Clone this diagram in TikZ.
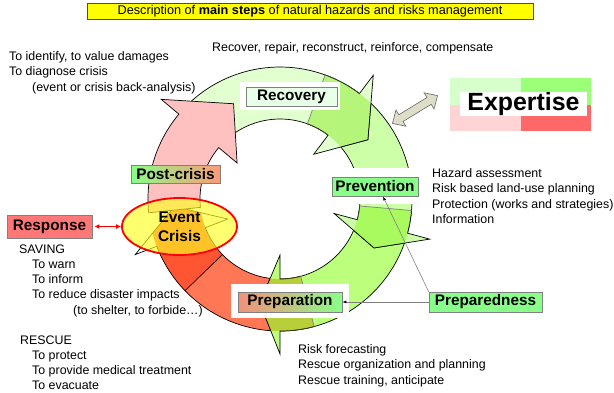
\documentclass[tikz,border=0pt]{standalone}
\usepackage{fontspec}
\setmainfont{Liberation Sans}
\usetikzlibrary{shapes.geometric,arrows.meta}
\begin{document}
\begin{tikzpicture}[x=1pt,y=-1pt]
      \newcommand{\rout}[0]{132}
      \newcommand{\rin}[0]{80}
      \newcommand{\rmid}[0]{106}
      \newcommand{\rbo}[0]{155}
      \newcommand{\rbi}[0]{56}
      \newcommand{\ringarrow}[3]{(#1:\rout) arc[start angle=#1, end angle=#2, radius=\rout] -- (#2:\rbo) -- (#3:\rmid) -- (#2:\rbi) -- (#2:\rin) arc[start angle=#2, end angle=#1, radius=\rin] -- cycle}
      \newcommand{\ringsector}[2]{(#1:\rout) arc[start angle=#1, end angle=#2, radius=\rout] -- (#2:\rin) arc[start angle=#2, end angle=#1, radius=\rin] -- cycle}

      \tikzstyle{ring}=[draw=black, line width=0.7pt]
      \tikzstyle{stage}=[
        draw=gray,
        line width=0.8pt,
        inner sep=0pt,
        font=\fontsize{15.3}{18}\selectfont\bfseries
      ]
      \tikzstyle{txt}=[anchor=north west, align=left, inner sep=0pt, font=\fontsize{12.4}{15.2}\selectfont]
      \tikzstyle{conn}=[draw=gray, line width=0.6pt, -{Latex[length=4pt, width=3pt, color=black]}]
      \tikzstyle{resplink}=[draw=red, line width=1pt, shorten <=2pt, {Latex[length=5pt, width=5pt]}-{Latex[length=5pt, width=5pt]}]

      \definecolor{redlight}{HTML}{FF7755}
      \definecolor{reddark}{HTML}{FF5533}
      \definecolor{prepgreen}{HTML}{BCFF7C}
      \definecolor{prepmix}{HTML}{B8CF3A}
      \definecolor{prevgreen}{HTML}{CCFFA8}
      \definecolor{prevmix}{HTML}{A8FA5E}
      \definecolor{recgreen}{HTML}{E2FFD0}
      \definecolor{recmix}{HTML}{B4F57A}
      \definecolor{postpink}{HTML}{FFC0C0}
      \definecolor{eventyellow}{HTML}{FFFF22}
      \definecolor{taggreen}{HTML}{88FF88}
      \definecolor{tagred}{HTML}{FF7777}
      \definecolor{tagsalmon}{HTML}{FF9977}
      \definecolor{tagsalmonb}{HTML}{F4907A}
      \definecolor{tagpale}{HTML}{E8FFE8}
      \definecolor{expa}{HTML}{D6FFCC}
      \definecolor{expb}{HTML}{9CFF78}
      \definecolor{expc}{HTML}{FFD4D4}
      \definecolor{expd}{HTML}{FF6868}
      \definecolor{linkgray}{HTML}{DDDDC8}
      \definecolor{titleyellow}{HTML}{FFFF00}

      \useasboundingbox (0,0) rectangle (614,392);

      \begin{scope}[shift={(280,199)}, yscale=-1]
        \begin{scope}
          \clip \ringsector{290}{175};
          \fill[reddark] \ringarrow{285}{201}{184};
        \end{scope}
        \fill[redlight] \ringsector{285}{224};
        \draw[ring] \ringarrow{285}{201}{184};
        \draw[ring] (224:\rin) -- (224:\rout);

        \filldraw[ring, fill=prepgreen] \ringarrow{355}{270}{259};
        \begin{scope}
          \clip \ringsector{285}{240};
          \filldraw[ring, fill=prepmix] \ringarrow{355}{270}{259};
        \end{scope}
        \draw[ring, draw=black!50] (285:\rin) -- (285:\rout);

        \filldraw[ring, fill=prevgreen] \ringarrow{70}{-15}{-27.5};
        \begin{scope}
          \clip \ringsector{-5}{-40};
          \filldraw[ring, fill=prevmix] \ringarrow{70}{-15}{-27.5};
        \end{scope}
        \draw[ring, draw=black!50] (-5:\rin) -- (-5:\rout);

        \filldraw[ring, fill=recgreen] \ringarrow{135}{53}{34};
        \begin{scope}
          \clip \ringsector{70}{20};
          \filldraw[ring, fill=recmix] \ringarrow{135}{53}{34};
        \end{scope}
        \draw[ring, draw=black!50] (70:\rin) -- (70:\rout);

        \filldraw[ring, fill=postpink] \ringarrow{186}{140}{116};
      \end{scope}

      \fill[white] (240,82) rectangle (340,110);
      \fill[white] (326,168) rectangle (424,204);
      \fill[white] (231,284) rectangle (349,318);

      \node[ellipse, draw=red, line width=1.8pt, fill=eventyellow, fill opacity=0.65, text opacity=1,
        minimum width=115, minimum height=57, inner sep=0pt, align=center,
        font=\fontsize{15.4}{19}\selectfont\bfseries] (event) at (179.5,226.5) {Event\\Crisis};

      \node[stage, fill=tagpale, minimum width=91, minimum height=19] (rec) at (291.5,96.5) {Recovery};
      \node[stage, left color=taggreen, right color=tagsalmon, minimum width=89, minimum height=18] (post) at (175.5,174) {Post-crisis};
      \node[stage, fill=taggreen, minimum width=86, minimum height=19] (prev) at (375,186.5) {Prevention};
      \node[stage, left color=tagsalmonb, right color=taggreen, minimum width=104, minimum height=20] (prepa) at (290,302) {Preparation};
      \node[stage, fill=taggreen, minimum width=113, minimum height=20] (prepd) at (485.5,302) {Preparedness};
      \node[stage, fill=tagred, minimum width=85, minimum height=23] (resp) at (49.5,226.5) {Response};

      \fill[expa] (450,78) rectangle (521,105);
      \fill[expb] (521,78) rectangle (591,105);
      \fill[expc] (450,105) rectangle (521,131);
      \fill[expd] (521,105) rectangle (591,131);
      \node[fill=white, inner sep=0pt, minimum width=127, minimum height=22,
        font=\fontsize{24.9}{28}\selectfont\bfseries] (expert) at (523.5,104) {Expertise};

      \begin{scope}[shift={(415,109.5)}, rotate=31.5]
        \filldraw[draw=gray!80!black, fill=linkgray, line width=0.6pt]
          (-26.5,0) -- (-16.5,9.5) -- (-16.5,4) -- (16.5,4) -- (16.5,9.5) -- (26.5,0)
          -- (16.5,-9.5) -- (16.5,-4) -- (-16.5,-4) -- (-16.5,-9.5) -- cycle;
      \end{scope}

      \node[draw=black!70, fill=titleyellow, line width=0.6pt, minimum width=446, minimum height=16, inner sep=0pt,
        font=\fontsize{12.7}{15}\selectfont] (title) at (310,11)
        {Description of \textbf{main steps} of natural hazards and risks management};

      \node[txt] (damage) at (9,51.5) {To identify, to value damages\\To diagnose crisis\\\hspace*{23pt}(event or crisis back-analysis)};
      \node[txt] (repair) at (212,42.5) {Recover, repair, reconstruct, reinforce, compensate};
      \node[txt] (hazard) at (432,168.5) {Hazard assessment\\Risk based land-use planning\\Protection (works and strategies)\\Information};
      \node[txt] (saving) at (19,244.5) {SAVING\\\hspace*{13pt}To warn\\\hspace*{13pt}To inform\\\hspace*{13pt}To reduce disaster impacts\\\hspace*{54pt}(to shelter, to forbide…)};
      \node[txt] (rescue) at (20,335.5) {RESCUE\\\hspace*{12pt}To protect\\\hspace*{12pt}To provide medical treatment\\\hspace*{12pt}To evacuate};
      \node[txt] (forecast) at (298,344.5) {Risk forecasting\\Rescue organization and planning\\Rescue training, anticipate};

      \draw[conn] (prepd.west) -- (prepa.east);
      \draw[conn] (prepd.north west) -- ([xshift=8pt]prev.south);
      \draw[resplink] (resp.east) -- (event.west);
    \end{tikzpicture}
\end{document}
